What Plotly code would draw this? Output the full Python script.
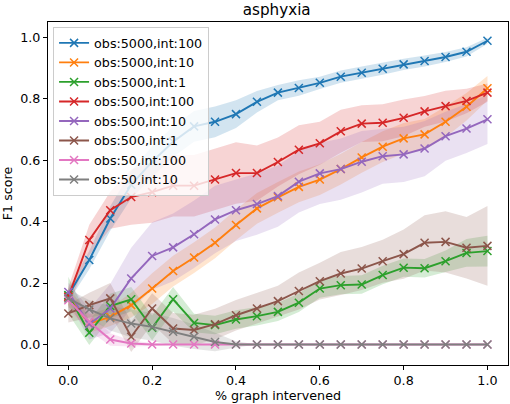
import plotly.graph_objects as go

x_vals = [0.0, 0.05, 0.1, 0.15, 0.2, 0.25, 0.3, 0.35, 0.4, 0.45, 0.5,
          0.55, 0.6, 0.65, 0.7, 0.75, 0.8, 0.85, 0.9, 0.95, 1.0]

names = ["obs:5000,int:100", "obs:5000,int:10", "obs:5000,int:1", "obs:500,int:100",
         "obs:500,int:10", "obs:500,int:1", "obs:50,int:100", "obs:50,int:10"]
colors = ["#1f77b4", "#ff7f0e", "#2ca02c", "#d62728", "#9467bd", "#8c564b", "#e377c2", "#7f7f7f"]

obs5000_int100 = [0.16, 0.275, 0.41, 0.52, 0.595, 0.66, 0.71, 0.725, 0.75, 0.79, 0.82,
                  0.835, 0.852, 0.872, 0.885, 0.898, 0.912, 0.923, 0.936, 0.953, 0.989]
obs5000_int100_sd = [0.02, 0.03, 0.04, 0.045, 0.05, 0.05, 0.05, 0.05, 0.045, 0.035, 0.025,
                     0.025, 0.02, 0.02, 0.02, 0.02, 0.018, 0.018, 0.016, 0.015, 0.01]

obs5000_int10 = [0.155, 0.068, 0.09, 0.128, 0.182, 0.239, 0.283, 0.331, 0.389, 0.443, 0.479,
                 0.513, 0.537, 0.571, 0.609, 0.644, 0.671, 0.684, 0.725, 0.774, 0.834]
obs5000_int10_sd = [0.03, 0.03, 0.03, 0.04, 0.05, 0.05, 0.05, 0.05, 0.05, 0.05, 0.05,
                    0.05, 0.05, 0.05, 0.05, 0.05, 0.05, 0.05, 0.05, 0.045, 0.04]

obs5000_int1 = [0.16, 0.038, 0.125, 0.147, 0.054, 0.147, 0.07, 0.063, 0.081, 0.092, 0.106,
                0.136, 0.182, 0.193, 0.195, 0.226, 0.25, 0.248, 0.271, 0.298, 0.304]
obs5000_int1_sd = [0.06, 0.04, 0.04, 0.04, 0.04, 0.04, 0.03, 0.03, 0.03, 0.03, 0.03,
                   0.03, 0.03, 0.03, 0.03, 0.03, 0.03, 0.03, 0.035, 0.045, 0.05]

obs500_int100 = [0.155, 0.34, 0.437, 0.48, 0.496, 0.517, 0.517, 0.537, 0.558, 0.558, 0.594,
                 0.634, 0.655, 0.694, 0.719, 0.722, 0.738, 0.759, 0.776, 0.793, 0.82]
obs500_int100_sd = [0.03, 0.05, 0.06, 0.09, 0.1, 0.1, 0.1, 0.1, 0.1, 0.09, 0.08,
                    0.08, 0.07, 0.07, 0.06, 0.06, 0.06, 0.05, 0.05, 0.04, 0.03]

obs500_int10 = [0.171, 0.066, 0.117, 0.215, 0.288, 0.316, 0.359, 0.407, 0.437, 0.457, 0.483,
                0.53, 0.557, 0.571, 0.595, 0.613, 0.619, 0.638, 0.678, 0.703, 0.733]
obs500_int10_sd = [0.03, 0.05, 0.08, 0.1, 0.11, 0.11, 0.11, 0.11, 0.1, 0.1, 0.1,
                   0.1, 0.1, 0.1, 0.1, 0.09, 0.09, 0.09, 0.08, 0.08, 0.08]

obs500_int1 = [0.101, 0.128, 0.15, 0.025, 0.117, 0.052, 0.047, 0.066, 0.095, 0.117, 0.141,
               0.174, 0.206, 0.231, 0.247, 0.271, 0.294, 0.331, 0.334, 0.315, 0.321]
obs500_int1_sd = [0.03, 0.04, 0.05, 0.05, 0.05, 0.05, 0.05, 0.05, 0.05, 0.05, 0.05,
                  0.06, 0.06, 0.07, 0.07, 0.07, 0.08, 0.09, 0.1, 0.1, 0.13]

obs50_int100 = [0.144, 0.074, 0.016, 0.003, 0.0, 0.0, 0.0, 0.0, 0.0, 0.0, 0.0,
                0.0, 0.0, 0.0, 0.0, 0.0, 0.0, 0.0, 0.0, 0.0, 0.0]
obs50_int100_sd = [0.03, 0.03, 0.02, 0.01, 0.005, 0.0, 0.0, 0.0, 0.0, 0.0, 0.0,
                   0.0, 0.0, 0.0, 0.0, 0.0, 0.0, 0.0, 0.0, 0.0, 0.0]

obs50_int10 = [0.15, 0.114, 0.085, 0.068, 0.057, 0.041, 0.025, 0.008, 0.0, 0.0, 0.0,
               0.0, 0.0, 0.0, 0.0, 0.0, 0.0, 0.0, 0.0, 0.0, 0.0]
obs50_int10_sd = [0.03, 0.03, 0.04, 0.045, 0.045, 0.045, 0.04, 0.03, 0.01, 0.0, 0.0,
                  0.0, 0.0, 0.0, 0.0, 0.0, 0.0, 0.0, 0.0, 0.0, 0.0]

means = [obs5000_int100, obs5000_int10, obs5000_int1, obs500_int100,
         obs500_int10, obs500_int1, obs50_int100, obs50_int10]
spreads = [obs5000_int100_sd, obs5000_int10_sd, obs5000_int1_sd, obs500_int100_sd,
           obs500_int10_sd, obs500_int1_sd, obs50_int100_sd, obs50_int10_sd]


def rgba(hex_color, a):
    h = hex_color.lstrip("#")
    r, g, b = int(h[0:2], 16), int(h[2:4], 16), int(h[4:6], 16)
    return f"rgba({r},{g},{b},{a})"


fig = go.Figure()
FONT = "DejaVu Sans"

# bands (beneath all lines)
for m, s, c in zip(means, spreads, colors):
    lo = [a - b for a, b in zip(m, s)]
    hi = [a + b for a, b in zip(m, s)]
    fig.add_trace(go.Scatter(x=x_vals, y=lo, mode="lines", line=dict(width=0, color=c),
                             showlegend=False, hoverinfo="skip"))
    fig.add_trace(go.Scatter(x=x_vals, y=hi, mode="lines", line=dict(width=0, color=c),
                             fill="tonexty", fillcolor=rgba(c, 0.2),
                             showlegend=False, hoverinfo="skip"))

for i, (m, n, c) in enumerate(zip(means, names, colors)):
    fig.add_trace(go.Scatter(
        x=x_vals, y=m, mode="lines+markers", name=n, legendgroup=f"g{i}",
        line=dict(color=c, width=1.9),
        marker=dict(symbol="x-thin", size=8, color=c, line=dict(width=1.5, color=c)),
    ))

axis_common = dict(
    showline=True, linecolor="black", linewidth=1, mirror=True,
    ticks="outside", ticklen=4, tickwidth=1, tickcolor="black",
    showgrid=False, zeroline=False,
    tickfont=dict(family=FONT, size=12.7, color="black"),
    tickformat=".1f",
)

fig.update_layout(
    width=510, height=404,
    margin=dict(l=48, r=2, t=22, b=39),
    paper_bgcolor="white", plot_bgcolor="white",
    font=dict(family=FONT, size=12.7, color="black"),
    title=dict(text="asphyxia", x=0.5425, xanchor="center", y=0.975, yanchor="middle",
               font=dict(family=FONT, size=15.2, color="black")),
    xaxis=dict(range=[-0.0485, 1.049], tickvals=[0, 0.2, 0.4, 0.6, 0.8, 1.0],
               title=dict(text="% graph intervened", standoff=3,
                          font=dict(family=FONT, size=12.7)),
               **axis_common),
    yaxis=dict(range=[-0.067, 1.05], tickvals=[0, 0.2, 0.4, 0.6, 0.8, 1.0],
               title=dict(text="F1 score", standoff=6,
                          font=dict(family=FONT, size=12.7)),
               **axis_common),
    legend=dict(x=0.011, y=0.985, xanchor="left", yanchor="top",
                bgcolor="rgba(255,255,255,0.8)", bordercolor="#cccccc", borderwidth=1,
                font=dict(family=FONT, size=12.7, color="black"),
                itemwidth=30, tracegroupgap=0),
)

fig.write_html("out.html", config={"displayModeBar": False},
               post_script="document.body.style.margin='0';")
